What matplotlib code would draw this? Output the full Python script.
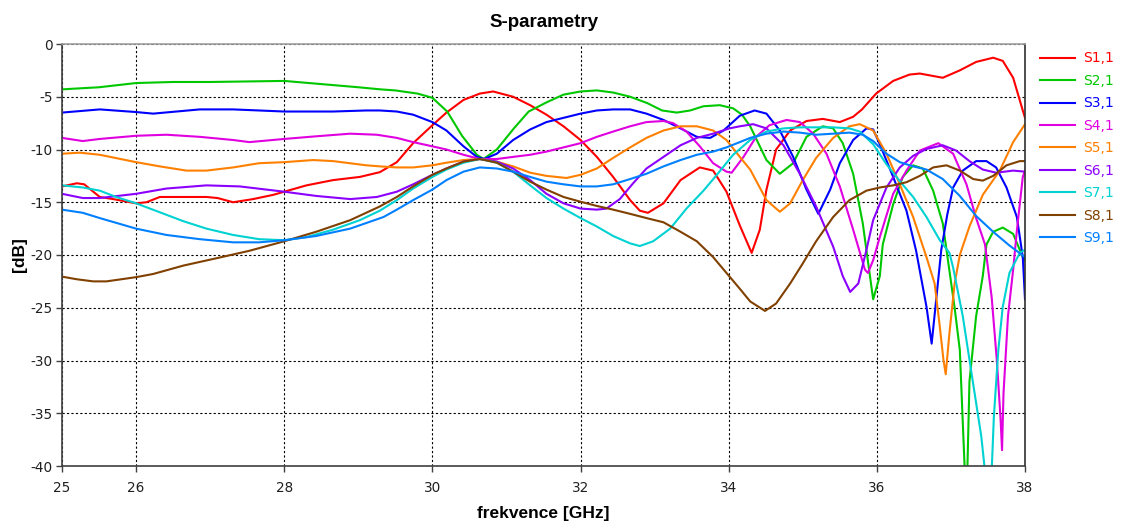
import matplotlib
matplotlib.use("Agg")
import matplotlib.pyplot as plt

# Frequency (GHz) and magnitude (dB) samples for each S-parameter
s11_f = [25.0, 25.2, 25.3, 25.51, 25.69, 26.0, 26.14, 26.32, 26.59, 26.95, 27.1, 27.31, 27.58, 27.85, 28.0,
         28.3, 28.66, 29.02, 29.29, 29.52, 29.74, 30.0, 30.19, 30.42, 30.64, 30.82, 31.09, 31.32, 31.54,
         31.77, 32.0, 32.22, 32.44, 32.67, 32.8, 32.91, 33.12, 33.35, 33.61, 33.79, 33.97, 34.15, 34.31,
         34.42, 34.51, 34.64, 34.83, 35.05, 35.27, 35.5, 35.68, 35.8, 35.99, 36.22, 36.44, 36.58, 36.89,
         37.12, 37.34, 37.57, 37.7, 37.84, 37.97, 38.0]
s11_db = [-13.5, -13.2, -13.3, -14.5, -14.7, -15.1, -15.0, -14.5, -14.5, -14.5, -14.6, -15.0, -14.7, -14.3, -14.0,
          -13.4, -12.9, -12.6, -12.15, -11.2, -9.4, -7.7, -6.5, -5.3, -4.7, -4.5, -5.0, -5.8, -6.7,
          -7.8, -9.1, -10.7, -12.6, -14.8, -15.8, -16.0, -15.1, -12.9, -11.7, -12.0, -14.0, -17.2, -19.8,
          -17.6, -13.8, -10.0, -8.2, -7.3, -7.1, -7.4, -6.9, -6.2, -4.7, -3.5, -2.9, -2.8, -3.2,
          -2.5, -1.7, -1.3, -1.6, -3.2, -6.3, -7.0]

s21_f = [25.0, 25.5, 26.0, 26.5, 27.0, 27.5, 28.0, 28.5, 29.0, 29.3, 29.5, 29.8, 30.0, 30.2, 30.4, 30.6,
         30.69, 30.87, 31.1, 31.3, 31.55, 31.77, 32.0, 32.22, 32.44, 32.67, 32.9, 33.1, 33.3, 33.48, 33.66,
         33.88, 34.06, 34.18, 34.29, 34.4, 34.51, 34.69, 34.87, 35.05, 35.27, 35.41, 35.54, 35.68, 35.81,
         35.95, 36.04, 36.08, 36.22, 36.35, 36.49, 36.62, 36.76, 36.89, 36.94, 37.05, 37.12, 37.19, 37.22,
         37.25, 37.34, 37.43, 37.48, 37.57, 37.7, 37.84, 37.97, 38.0]
s21_db = [-4.3, -4.1, -3.7, -3.6, -3.6, -3.55, -3.5, -3.8, -4.1, -4.3, -4.4, -4.7, -5.1, -6.4, -8.7, -10.5,
          -10.9, -10.0, -8.0, -6.4, -5.5, -4.8, -4.5, -4.4, -4.6, -5.0, -5.6, -6.3, -6.5, -6.3, -5.9,
          -5.8, -6.1, -6.7, -7.8, -9.4, -11.0, -12.3, -11.3, -8.8, -7.8, -8.0, -9.4, -12.3, -17.0,
          -24.2, -22.0, -19.0, -15.2, -12.6, -11.5, -11.8, -13.9, -17.0, -19.5, -25.0, -29.0, -41.0, -41.0,
          -32.0, -25.8, -22.0, -19.0, -17.8, -17.4, -18.0, -20.2, -20.5]

s31_f = [25.0, 25.51, 26.0, 26.23, 26.86, 27.31, 28.0, 28.66, 29.11, 29.29, 29.52, 29.74, 30.0, 30.19,
         30.42, 30.6, 30.7, 30.87, 31.09, 31.32, 31.54, 31.77, 32.0, 32.22, 32.44, 32.67, 32.89, 33.12,
         33.35, 33.57, 33.75, 33.93, 34.15, 34.35, 34.51, 34.69, 34.87, 35.05, 35.21, 35.37, 35.5, 35.68,
         35.86, 35.95, 36.04, 36.22, 36.4, 36.53, 36.67, 36.74, 36.8, 36.87, 36.95, 37.03, 37.16, 37.34,
         37.48, 37.61, 37.75, 37.89, 37.97, 38.0]
s31_db = [-6.5, -6.2, -6.45, -6.6, -6.2, -6.2, -6.4, -6.4, -6.3, -6.3, -6.4, -6.7, -7.4, -8.2,
          -9.7, -10.7, -10.9, -10.4, -9.1, -8.1, -7.4, -7.0, -6.6, -6.3, -6.2, -6.2, -6.6, -7.2,
          -8.0, -8.8, -8.9, -8.2, -6.8, -6.3, -6.6, -8.2, -10.7, -13.8, -16.1, -13.8, -11.3, -9.1,
          -8.0, -8.1, -9.5, -12.6, -15.8, -19.6, -24.9, -28.4, -24.3, -19.5, -16.2, -13.6, -12.0, -11.1,
          -11.1, -11.7, -13.6, -16.4, -20.2, -24.2]

s41_f = [25.0, 25.28, 25.51, 26.0, 26.41, 26.86, 27.31, 27.53, 28.0, 28.43, 28.89, 29.25, 29.52, 29.74,
         30.0, 30.19, 30.42, 30.64, 30.87, 31.09, 31.32, 31.54, 31.77, 32.0, 32.22, 32.44, 32.67, 32.89,
         33.12, 33.25, 33.43, 33.61, 33.79, 33.97, 34.04, 34.2, 34.37, 34.55, 34.78, 34.96, 35.14, 35.32,
         35.5, 35.68, 35.84, 35.88, 35.95, 36.04, 36.22, 36.4, 36.58, 36.83, 37.03, 37.21, 37.34, 37.46,
         37.55, 37.62, 37.67, 37.69, 37.71, 37.77, 37.84, 37.89, 37.97, 38.0]
s41_db = [-8.9, -9.2, -9.0, -8.7, -8.6, -8.8, -9.1, -9.3, -9.0, -8.75, -8.5, -8.6, -8.9, -9.3,
          -9.7, -10.0, -10.5, -10.9, -10.9, -10.7, -10.5, -10.2, -9.8, -9.4, -8.8, -8.3, -7.8, -7.4,
          -7.3, -7.5, -8.3, -9.7, -11.3, -12.1, -12.2, -10.7, -8.8, -7.7, -7.2, -7.4, -8.5, -10.4,
          -13.5, -17.6, -21.4, -21.7, -20.5, -18.3, -14.2, -12.0, -10.1, -9.4, -10.4, -13.3, -16.5, -19.0,
          -24.0, -30.0, -35.5, -38.5, -33.1, -25.8, -21.4, -17.7, -12.6, -12.0]

s51_f = [25.0, 25.24, 25.51, 26.0, 26.32, 26.68, 26.95, 27.31, 27.66, 28.0, 28.39, 28.66, 29.11, 29.29,
         29.52, 29.74, 30.0, 30.19, 30.42, 30.64, 30.87, 31.09, 31.32, 31.54, 31.81, 32.0, 32.22, 32.44,
         32.67, 32.89, 33.12, 33.35, 33.57, 33.79, 33.97, 34.15, 34.29, 34.51, 34.69, 34.83, 35.0, 35.18,
         35.41, 35.63, 35.77, 35.95, 36.13, 36.31, 36.49, 36.67, 36.78, 36.85, 36.9, 36.93, 36.98, 37.05,
         37.12, 37.25, 37.43, 37.66, 37.84, 38.0]
s51_db = [-10.4, -10.3, -10.5, -11.2, -11.6, -12.0, -12.0, -11.7, -11.3, -11.2, -11.0, -11.1, -11.5, -11.6,
          -11.7, -11.7, -11.5, -11.25, -11.0, -10.9, -11.15, -11.6, -12.2, -12.5, -12.7, -12.4, -11.8, -10.8,
          -9.8, -8.9, -8.2, -7.8, -7.8, -8.2, -9.1, -10.7, -11.9, -14.8, -15.9, -15.1, -12.9, -10.8,
          -8.9, -7.8, -7.6, -8.2, -10.4, -13.3, -16.4, -20.2, -22.7, -26.8, -30.0, -31.3, -27.4, -22.7,
          -20.0, -17.3, -14.3, -12.0, -9.3, -7.6]

s61_f = [25.0, 25.28, 25.51, 26.0, 26.41, 26.95, 27.4, 28.0, 28.43, 28.89, 29.25, 29.52, 29.74, 30.0,
         30.19, 30.42, 30.64, 30.87, 31.09, 31.32, 31.54, 31.77, 32.0, 32.22, 32.35, 32.53, 32.71, 32.89,
         33.12, 33.35, 33.57, 33.79, 34.01, 34.15, 34.33, 34.51, 34.74, 34.96, 35.18, 35.41, 35.54, 35.64,
         35.75, 35.86, 35.95, 36.13, 36.31, 36.49, 36.67, 36.89, 37.07, 37.25, 37.43, 37.61, 37.84, 38.0]
s61_db = [-14.2, -14.6, -14.6, -14.2, -13.7, -13.4, -13.5, -14.0, -14.4, -14.7, -14.5, -14.0, -13.3, -12.4,
          -11.8, -11.15, -10.9, -11.15, -11.8, -12.9, -14.2, -15.1, -15.6, -15.7, -15.6, -14.7, -13.2, -11.8,
          -10.7, -9.6, -8.9, -8.5, -8.0, -7.8, -7.6, -8.0, -9.6, -12.3, -15.4, -19.2, -22.0, -23.5,
          -22.7, -19.5, -16.7, -13.6, -11.7, -10.6, -9.95, -9.6, -10.1, -11.1, -11.9, -12.2, -12.0, -12.1]

s71_f = [25.0, 25.28, 25.51, 25.73, 26.0, 26.32, 26.64, 26.95, 27.31, 27.66, 28.0, 28.3, 28.66, 29.02,
         29.29, 29.52, 29.74, 30.0, 30.19, 30.42, 30.64, 30.87, 31.09, 31.32, 31.54, 31.77, 32.0, 32.22,
         32.44, 32.67, 32.8, 32.98, 33.21, 33.43, 33.66, 33.84, 34.06, 34.29, 34.51, 34.74, 34.96, 35.41,
         35.63, 35.77, 35.95, 36.13, 36.31, 36.49, 36.67, 36.85, 36.98, 37.03, 37.16, 37.3, 37.41, 37.46,
         37.5, 37.55, 37.58, 37.64, 37.7, 37.79, 37.93, 38.0]
s71_db = [-13.4, -13.6, -13.9, -14.5, -15.1, -15.95, -16.8, -17.5, -18.1, -18.5, -18.6, -18.3, -17.6, -16.7,
          -15.8, -14.8, -13.7, -12.6, -11.9, -11.25, -10.9, -11.25, -12.1, -13.4, -14.6, -15.6, -16.5, -17.3,
          -18.2, -18.9, -19.15, -18.7, -17.5, -15.6, -13.9, -12.4, -10.5, -9.1, -8.3, -8.0, -7.9, -7.9,
          -8.0, -8.3, -9.5, -11.4, -13.0, -14.5, -16.4, -18.6, -19.8, -21.2, -25.8, -32.2, -37.2, -40.5,
          -42.0, -40.5, -35.3, -29.0, -24.9, -21.7, -19.8, -19.5]

s81_f = [25.0, 25.2, 25.42, 25.6, 26.0, 26.23, 26.64, 27.09, 27.53, 28.0, 28.43, 28.89, 29.29, 29.52,
         29.74, 30.0, 30.19, 30.42, 30.64, 30.87, 31.09, 31.32, 31.54, 31.77, 32.0, 32.22, 32.44, 32.67,
         32.89, 33.12, 33.35, 33.57, 33.79, 33.97, 34.15, 34.29, 34.49, 34.64, 34.83, 35.0, 35.18, 35.41,
         35.63, 35.86, 36.04, 36.22, 36.4, 36.58, 36.76, 36.94, 37.12, 37.3, 37.43, 37.57, 37.75, 37.93, 38.0]
s81_db = [-22.05, -22.3, -22.5, -22.5, -22.1, -21.8, -21.0, -20.3, -19.6, -18.7, -17.8, -16.7, -15.4, -14.5,
          -13.5, -12.4, -11.8, -11.15, -10.9, -11.25, -12.1, -13.05, -13.8, -14.5, -14.95, -15.35, -15.7, -16.1,
          -16.5, -16.9, -17.8, -18.7, -20.2, -21.7, -23.2, -24.4, -25.3, -24.6, -22.7, -20.8, -18.7, -16.4,
          -14.8, -13.9, -13.6, -13.4, -13.1, -12.5, -11.7, -11.5, -12.0, -12.8, -12.95, -12.5, -11.5, -11.1, -11.1]

s91_f = [25.0, 25.28, 25.51, 26.0, 26.41, 26.86, 27.31, 27.66, 28.0, 28.43, 28.89, 29.34, 29.52, 29.74,
         30.0, 30.19, 30.42, 30.64, 30.87, 31.09, 31.32, 31.54, 31.77, 32.0, 32.22, 32.44, 32.67, 32.89,
         33.12, 33.35, 33.57, 33.79, 33.97, 34.15, 34.29, 34.51, 34.74, 34.96, 35.18, 35.41, 35.63, 35.81,
         35.95, 36.13, 36.31, 36.49, 36.67, 36.89, 37.12, 37.34, 37.57, 37.79, 38.0]
s91_db = [-15.7, -16.0, -16.5, -17.5, -18.1, -18.5, -18.8, -18.8, -18.6, -18.2, -17.5, -16.4, -15.7, -14.8,
          -13.8, -12.9, -12.1, -11.7, -11.8, -12.1, -12.6, -13.05, -13.3, -13.5, -13.5, -13.3, -12.8, -12.3,
          -11.6, -11.0, -10.5, -10.2, -9.8, -9.3, -8.9, -8.5, -8.3, -8.4, -8.6, -8.5, -8.4, -8.6,
          -9.2, -10.4, -11.2, -11.6, -11.9, -12.8, -14.4, -16.3, -17.8, -19.1, -20.2]

labels = ["S1,1", "S2,1", "S3,1", "S4,1", "S5,1", "S6,1", "S7,1", "S8,1", "S9,1"]
colors = ["#ff0000", "#00c800", "#0000ff", "#e000e0", "#ff8000", "#8c00ff", "#00d2d2", "#804000", "#0080ff"]
series = [(s11_f, s11_db), (s21_f, s21_db), (s31_f, s31_db), (s41_f, s41_db), (s51_f, s51_db),
          (s61_f, s61_db), (s71_f, s71_db), (s81_f, s81_db), (s91_f, s91_db)]

x_ticks = [25, 26, 28, 30, 32, 34, 36, 38]
y_ticks = [0, -5, -10, -15, -20, -25, -30, -35, -40]

fig = plt.figure(figsize=(11.23, 5.28), dpi=100)
ax = fig.add_axes([62 / 1123, 1 - 466 / 528, (1025 - 62) / 1123, (466 - 44) / 528])

for (f, db), lab, col in zip(series, labels, colors):
    ax.plot(f, db, color=col, lw=1.5, label=lab, solid_joinstyle="round")

ax.set_xlim(25, 38)
ax.set_ylim(-40, 0)
ax.set_xticks(x_ticks)
ax.set_yticks(y_ticks)
ax.set_xticklabels([str(t) for t in x_ticks], family="DejaVu Sans", fontsize=9.8, color="#202020")
ax.set_yticklabels([str(t) for t in y_ticks], family="DejaVu Sans", fontsize=9.8, color="#202020")
ax.tick_params(length=4, width=1, color="#404040")
ax.tick_params(axis="x", pad=6.5)
ax.tick_params(axis="y", pad=2.5)

ax.grid(True, color="black", linestyle=(0, (2, 2)), linewidth=0.8)
for name, c in [("left", "#404040"), ("bottom", "#404040"), ("top", "#a0a0a0"), ("right", "#303030")]:
    ax.spines[name].set_color(c)
    ax.spines[name].set_linewidth(1.2)

ax.set_title("S-parametry", fontsize=13.5, fontweight="bold", family="Liberation Sans", pad=12)
ax.set_xlabel("frekvence [GHz]", fontsize=12.5, fontweight="bold", family="Liberation Sans", labelpad=8.5)
ax.set_ylabel("[dB]", fontsize=12.5, fontweight="bold", family="Liberation Sans", labelpad=2.5)

leg = ax.legend(loc="upper left", bbox_to_anchor=(1.003, 1.012), frameon=False, labelcolor="linecolor",
                handlelength=2.5, handletextpad=0.6, labelspacing=0.61, prop={"family": "DejaVu Sans", "size": 10})

fig.savefig("out.png", dpi=100)
